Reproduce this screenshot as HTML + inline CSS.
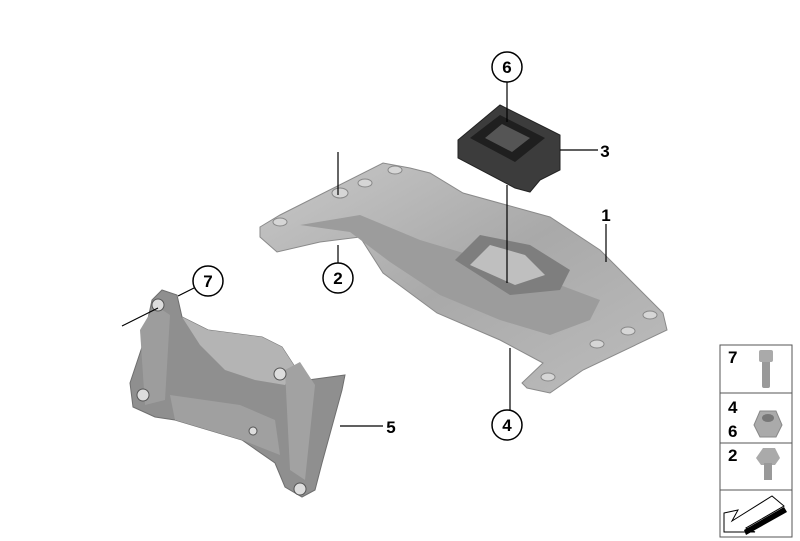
<!DOCTYPE html>
<html><head><style>
html,body{margin:0;padding:0;background:#fff;}
svg{display:block;}
text{font-family:"Liberation Sans",sans-serif;font-weight:bold;}
</style></head><body>
<svg width="800" height="541" viewBox="0 0 800 541" xmlns="http://www.w3.org/2000/svg">
<defs>
<linearGradient id="g1" x1="0" y1="0" x2="1" y2="1">
<stop offset="0" stop-color="#c8c8c8"/><stop offset="0.5" stop-color="#a9a9a9"/><stop offset="1" stop-color="#bdbdbd"/>
</linearGradient>
</defs>
<!-- main bracket 1 -->
<polygon points="260,227 280,215 383,163 410,168 430,173 463,193 550,217 600,250 663,313 667,330 583,370 550,393 527,388 522,383 543,363 500,340 437,313 383,273 360,237 320,242 277,252 260,237" fill="url(#g1)" stroke="#8a8a8a" stroke-width="1"/>
<polygon points="300,225 360,215 420,240 470,255 520,270 560,285 600,300 590,320 550,335 500,320 440,295 390,262 350,232" fill="#9c9c9c"/>
<polygon points="455,260 480,235 530,245 570,270 560,290 510,295" fill="#7e7e7e"/>
<polygon points="470,265 490,245 525,255 545,275 515,285" fill="#bfbfbf"/>
<g fill="#d6d6d6" stroke="#888" stroke-width="1">
<ellipse cx="340" cy="193" rx="8" ry="5"/><ellipse cx="365" cy="183" rx="7" ry="4"/><ellipse cx="395" cy="170" rx="7" ry="4"/>
<ellipse cx="280" cy="222" rx="7" ry="4"/><ellipse cx="650" cy="315" rx="7" ry="4"/><ellipse cx="628" cy="331" rx="7" ry="4"/>
<ellipse cx="597" cy="344" rx="7" ry="4"/><ellipse cx="548" cy="377" rx="7" ry="4"/>
</g>
<!-- part 3 dark mount -->
<polygon points="458,140 500,105 560,135 560,170 540,180 530,192 515,188 458,158" fill="#3c3c3c" stroke="#222"/>
<polygon points="470,138 500,115 545,138 515,162" fill="#1f1f1f"/>
<polygon points="485,138 502,124 530,138 512,152" fill="#555"/>
<!-- part 5 bracket -->
<polygon points="162,290 177,295 182,317 208,330 262,337 282,347 295,367 308,380 345,375 342,390 322,463 315,490 302,497 285,487 275,463 242,440 175,420 155,417 133,407 130,383 142,347 152,300" fill="#8f8f8f" stroke="#6f6f6f"/>
<polygon points="182,317 208,330 262,337 282,347 295,367 285,385 255,380 225,370 200,345" fill="#b4b4b4"/>
<polygon points="170,395 240,405 275,420 280,455 242,440 175,420" fill="#a0a0a0"/>
<polygon points="140,330 155,305 170,315 165,400 145,405" fill="#9d9d9d"/>
<polygon points="285,370 300,362 315,385 305,480 290,470" fill="#a2a2a2"/>
<g fill="#ddd" stroke="#555"><circle cx="158" cy="305" r="6"/><circle cx="143" cy="395" r="6"/><circle cx="300" cy="489" r="6"/><circle cx="280" cy="374" r="6"/><circle cx="253" cy="431" r="4"/></g>
<!-- leader lines -->
<g stroke="#000" stroke-width="1.2" fill="none">
<line x1="507" y1="82" x2="507" y2="122"/>
<line x1="338" y1="152" x2="338" y2="195"/>
<line x1="338" y1="245" x2="338" y2="263"/>
<line x1="507" y1="185" x2="507" y2="283"/>
<line x1="510" y1="348" x2="510" y2="410"/>
<line x1="560" y1="150" x2="598" y2="150"/>
<line x1="606" y1="224" x2="606" y2="262"/>
<line x1="340" y1="426" x2="383" y2="426"/>
<line x1="194" y1="288" x2="178" y2="296"/>
<line x1="122" y1="326" x2="158" y2="308"/>
</g>
<g fill="#fff" stroke="#000" stroke-width="1.5">
<circle cx="507" cy="67" r="15"/><circle cx="338" cy="278" r="15"/><circle cx="208" cy="281" r="15"/><circle cx="507" cy="425" r="15"/>
</g>
<g font-size="17" text-anchor="middle">
<text x="507" y="73">6</text><text x="338" y="284">2</text><text x="208" y="287">7</text><text x="507" y="431">4</text>
<text x="605" y="157">3</text><text x="606" y="221">1</text><text x="391" y="433">5</text>
</g>
<!-- legend -->
<g stroke="#555" stroke-width="1" fill="#fff">
<rect x="720" y="345" width="72" height="48"/><rect x="720" y="393" width="72" height="50"/>
<rect x="720" y="443" width="72" height="47"/><rect x="720" y="490" width="72" height="47"/>
</g>
<g font-size="17">
<text x="728" y="363">7</text><text x="728" y="413">4</text><text x="728" y="437">6</text><text x="728" y="461">2</text>
</g>
<rect x="762" y="358" width="8" height="30" fill="#999" rx="2"/>
<rect x="759" y="350" width="14" height="12" fill="#aaa" rx="2"/>
<polygon points="754,425 760,411 776,411 782,425 776,437 760,437" fill="#aaa" stroke="#888"/>
<ellipse cx="768" cy="418" rx="6" ry="4" fill="#777"/>
<polygon points="756,458 763,448 775,448 780,458 775,465 761,465" fill="#aaa"/>
<rect x="764" y="463" width="8" height="17" fill="#999"/>
<polygon points="724,513 738,510 732,521 772,496 784,506 746,528 755,532 724,532" fill="#fff" stroke="#000"/>
<polygon points="744,530 784,507 787,512 746,535" fill="#000"/>
</svg>
</body></html>
